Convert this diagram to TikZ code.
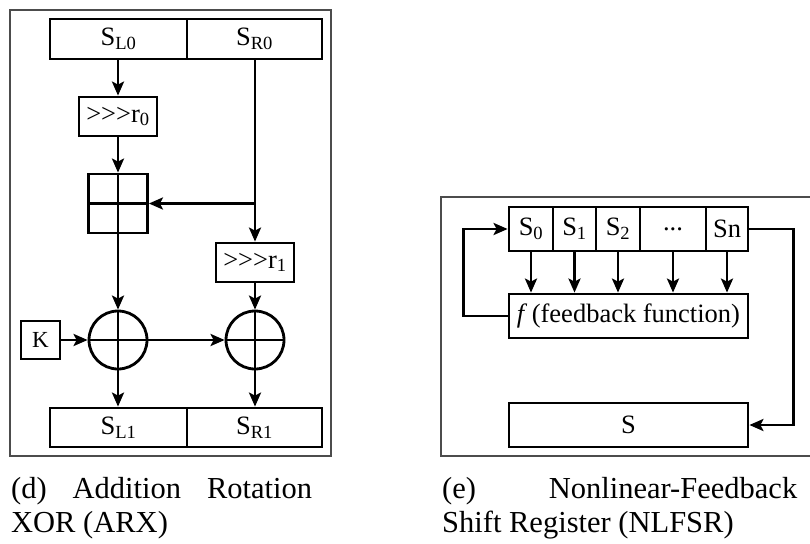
\documentclass[tikz,border=0pt]{standalone}
\usepackage{fontspec}
\newfontfamily\diagfont{Liberation Serif}
\usetikzlibrary{arrows.meta}

\tikzset{
	block/.style={draw, line width=2.8pt, inner sep=0pt, font=\diagfont\fontsize{26.5}{30}\selectfont},
	crossed/.style={path picture={
		\draw[line width=2.8pt] (path picture bounding box.north) -- (path picture bounding box.south);
		\draw[line width=2.8pt] (path picture bounding box.west) -- (path picture bounding box.east);}},
	wire/.style={line width=2.8pt},
	frame/.style={draw=black!70, line width=1.8pt},
	caption/.style={inner sep=0pt, font=\diagfont\fontsize{30.5}{34}\selectfont}
}

\begin{document}
\begin{tikzpicture}[x=1pt, y=-1pt, >={Stealth[length=14pt,width=12pt,inset=3pt]}]
	\useasboundingbox (0,0) rectangle (810,543);

	% (d) ARX
	\draw[frame] (10,10) rectangle (331,456);
	\node[block, minimum width=137pt, minimum height=40pt] (sl0) at (118.5,39) {S\textsubscript{L0}};
	\node[block, minimum width=135pt, minimum height=40pt] (sr0) at (254.5,39) {S\textsubscript{R0}};
	\node[block, minimum width=78pt, minimum height=39pt] (rot0) at (118,116.5) {>>>r\textsubscript{0}};
	\node[block, crossed, minimum size=59pt] (add) at (118,203.5) {};
	\node[block, minimum width=78pt, minimum height=39pt] (rot1) at (255,262.5) {>>>r\textsubscript{1}};
	\node[block, circle, crossed, minimum size=58pt] (xor0) at (118,340) {};
	\node[block, circle, crossed, minimum size=58pt] (xor1) at (255,340) {};
	\node[block, minimum width=39pt, minimum height=38pt, font=\diagfont\fontsize{23}{26}\selectfont] (key) at (40.5,340) {K};
	\node[block, minimum width=137pt, minimum height=39pt] (sl1) at (118.5,427.5) {S\textsubscript{L1}};
	\node[block, minimum width=135pt, minimum height=39pt] (sr1) at (254.5,427.5) {S\textsubscript{R1}};
	\coordinate (split) at (sr0.south |- add.east);

	\draw[wire, ->] (sl0.south -| rot0.north) -- (rot0.north);
	\draw[wire, ->] (rot0) -- (add);
	\draw[wire, ->] (sr0.south -| rot1.north) -- (rot1.north);
	\draw[wire, ->] (split -| rot1.north) -- (add.east);
	\draw[wire, ->] (add) -- (xor0);
	\draw[wire, ->] (rot1) -- (xor1);
	\draw[wire, ->] (key) -- (xor0);
	\draw[wire, ->] (xor0) -- (xor1);
	\draw[wire, ->] (xor0) -- (xor0 |- sl1.north);
	\draw[wire, ->] (xor1) -- (xor1 |- sr1.north);

	\node[caption, anchor=base west] (capd) at (11,498) {\hbox to 301pt{(d)\hfill Addition\hfill Rotation}};
	\node[caption, anchor=base west] (capdb) at (11,532) {XOR (ARX)};

	% (e) NLFSR
	\draw[frame] (816,197) -- (441,197) -- (441,456) -- (816,456);
	\node[block, minimum width=44pt, minimum height=44pt] (s0) at (531,229) {S\textsubscript{0}};
	\node[block, minimum width=43pt, minimum height=44pt] (s1) at (574.5,229) {S\textsubscript{1}};
	\node[block, minimum width=44pt, minimum height=44pt] (s2) at (618,229) {S\textsubscript{2}};
	\node[block, minimum width=66pt, minimum height=44pt] (dots) at (673,229) {...};
	\node[block, minimum width=42pt, minimum height=44pt] (sn) at (727,229) {Sn};
	\node[block, minimum width=239pt, minimum height=44pt] (fb) at (628.5,316) {\textit{f}\,(feedback function)};
	\node[block, minimum width=239pt, minimum height=44pt] (sout) at (628.5,425) {S};

	\foreach \c in {s0,s1,s2,dots,sn}
		\draw[wire, ->] (\c) -- (\c |- fb.north);
	\draw[wire, ->] (fb.west) -- ++(-44,0) |- (s0.west);
	\draw[wire, ->] (sn.east) -- ++(44,0) |- (sout.east);

	\node[caption, anchor=base west] (cape) at (442,498) {\hbox to 355pt{(e)\hfill Nonlinear-Feedback}};
	\node[caption, anchor=base west] (capeb) at (442,532) {Shift Register (NLFSR)};
\end{tikzpicture}
\end{document}
